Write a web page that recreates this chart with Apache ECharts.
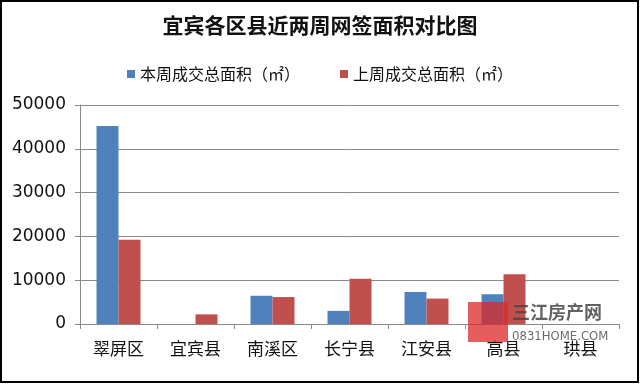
<!DOCTYPE html>
<html><head><meta charset="utf-8">
<script src="https://cdn.jsdelivr.net/npm/echarts@6/dist/echarts.min.js"></script>
<style>html,body{margin:0;padding:0;background:#fff}#c{width:640px;height:385px}</style>
</head><body><div id="c"></div>
<script>
const categories = ['翠屏区','宜宾县','南溪区','长宁县','江安县','高县','珙县'];
const thisWeek = [45200, 0, 6450, 3000, 7300, 6800, 0];
const lastWeek = [19250, 2200, 6150, 10350, 5800, 11350, 0];
const seriesNames = ['本周成交总面积（㎡）','上周成交总面积（㎡）'];
const chart = echarts.init(document.getElementById('c'));
const cjk = '"Noto Sans CJK SC", sans-serif';
chart.setOption({
  animation:false,
  backgroundColor:'#fff',
  title:{text:'宜宾各区县近两周网签面积对比图',left:'center',top:10,
    textStyle:{fontFamily:cjk,fontSize:21,fontWeight:'bold',color:'#111'}},
  legend:{top:61,left:'center',itemWidth:8,itemHeight:8,itemGap:40,icon:'rect',
    textStyle:{fontFamily:cjk,fontSize:16,color:'#111'},data:seriesNames},
  grid:{left:80,right:21,top:105,bottom:61},
  xAxis:{type:'category',data:categories,
    axisLine:{lineStyle:{color:'#888',width:1}},
    axisTick:{show:true,length:5,lineStyle:{color:'#888'}},
    axisLabel:{fontFamily:cjk,fontSize:17,color:'#111',margin:16}},
  yAxis:{type:'value',min:0,max:50000,interval:10000,
    axisLine:{show:true,lineStyle:{color:'#888'}},
    axisTick:{show:true,length:5,lineStyle:{color:'#888'}},
    axisLabel:{fontFamily:'"DejaVu Sans", sans-serif',fontSize:17,color:'#111',margin:14,
      formatter:function(v){return String(v);}},
    splitLine:{lineStyle:{color:'#888',width:1}}},
  series:[
    {name:seriesNames[0],type:'bar',data:thisWeek,barWidth:22,barGap:'0%',itemStyle:{color:'#4F81BD'}},
    {name:seriesNames[1],type:'bar',data:lastWeek,barWidth:22,barGap:'0%',itemStyle:{color:'#C0504D'}}
  ],
  graphic:[
    {type:'rect',shape:{x:1,y:1,width:637,height:381},style:{fill:'none',stroke:'#000',lineWidth:2},z:100},
    {type:'rect',shape:{x:468,y:302,width:40,height:40},style:{fill:'rgba(220,40,40,0.75)'},z:50},
    {type:'text',x:512,y:303,style:{text:'三江房产网',fontFamily:cjk,fontSize:18,fontWeight:'bold',fill:'rgba(70,70,70,0.85)'},z:50},
    {type:'text',x:512,y:330,style:{text:'0831HOME.COM',fontFamily:'"Liberation Sans Narrow","DejaVu Sans Condensed",sans-serif',fontSize:13,fill:'rgba(80,80,80,0.85)'},z:50}
  ]
});
</script></body></html>
